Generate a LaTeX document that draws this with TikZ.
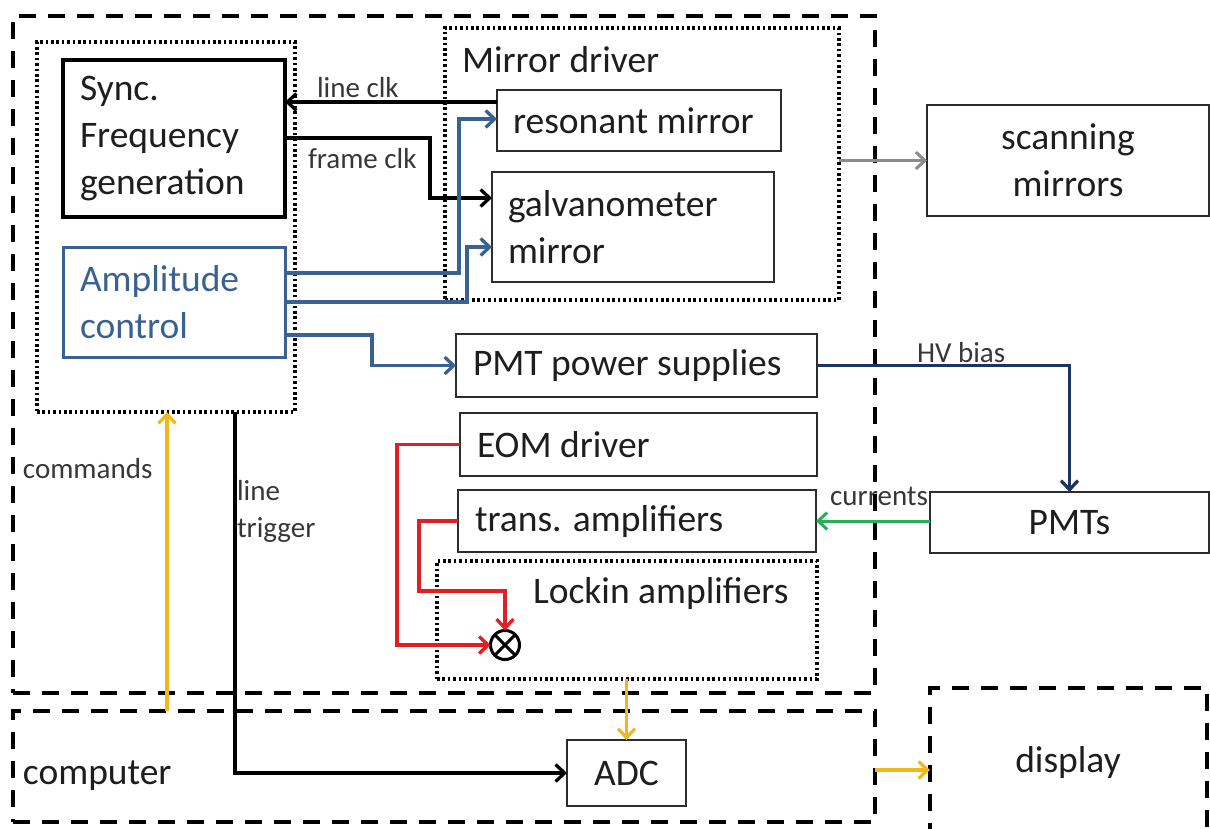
\documentclass[tikz,border=0pt]{standalone}
\usepackage{fontspec}
\setmainfont{Carlito}
\usetikzlibrary{arrows.meta}
\definecolor{ablue}{RGB}{58,98,145}
\definecolor{navyc}{RGB}{28,52,98}
\definecolor{greenc}{RGB}{40,175,90}
\definecolor{redc}{RGB}{225,30,35}
\definecolor{yelc}{RGB}{240,185,25}
\definecolor{grayc}{RGB}{140,140,140}
\definecolor{boxc}{RGB}{45,45,45}
\definecolor{txtc}{RGB}{30,30,30}
\definecolor{lblc}{RGB}{55,55,55}
\newcommand\mainfs{\fontsize{37.5}{47}\selectfont}
\newcommand\lblfs{\fontsize{29}{36}\selectfont}
\tikzset{
  plainbox/.style={draw=boxc, line width=2.3pt, inner sep=0pt, outer sep=0pt},
  dashbox/.style={draw=black, line width=3.6pt, dash pattern=on 17pt off 12pt, inner sep=0pt, outer sep=0pt},
  dotbox/.style={draw=black, line width=3.2pt, dash pattern=on 2.6pt off 2.8pt, inner sep=0pt, outer sep=0pt},
  mtxt/.style={font=\mainfs, text=txtc, inner sep=0pt, outer sep=0pt},
  lbl/.style={font=\lblfs, text=lblc, inner sep=0pt, outer sep=0pt},
  tip/.style={-{Straight Barb[length=9pt,width=17pt]}},
  blk/.style={tip, draw=black, line width=3.3pt},
  bl/.style={tip, draw=ablue, line width=3.3pt},
  nv/.style={tip, draw=navyc, line width=3.3pt},
  gr/.style={tip, draw=greenc, line width=3pt},
  rd/.style={tip, draw=redc, line width=3.3pt},
  yl/.style={tip, draw=yelc, line width=3.2pt},
  gy/.style={tip, draw=grayc, line width=3pt},
}
\begin{document}
\begin{tikzpicture}[x=1pt,y=-1pt]
\useasboundingbox (0,0) rectangle (1210,828);
% containers
\node[dashbox, minimum width=862pt, minimum height=677pt] (outer) at (444,354.5) {};
\node[dashbox, minimum width=862pt, minimum height=111pt] (comp) at (444,766.5) {};
\node[dashbox, minimum width=277pt, minimum height=152pt] (disp) at (1068.5,764) {};
\node[dotbox, minimum width=258pt, minimum height=370pt] (leftdot) at (166,227) {};
\node[dotbox, minimum width=394pt, minimum height=272pt] (mdrv) at (642,164) {};
\node[dotbox, minimum width=380pt, minimum height=118pt] (lockin) at (627,620) {};
% boxes
\node[plainbox, draw=black, line width=3.6pt, minimum width=222pt, minimum height=157pt] (sync) at (174,138.5) {};
\node[plainbox, draw=ablue, line width=3pt, minimum width=222pt, minimum height=110pt] (amp) at (174,302) {};
\node[plainbox, minimum width=284pt, minimum height=61pt] (res) at (639,120.5) {};
\node[plainbox, minimum width=282pt, minimum height=110pt] (galvo) at (633,227) {};
\node[plainbox, minimum width=282pt, minimum height=111pt] (scan) at (1068,160.5) {};
\node[plainbox, minimum width=361pt, minimum height=63pt] (pmtps) at (636.5,365.5) {};
\node[plainbox, minimum width=357pt, minimum height=63pt] (eom) at (638.5,444.5) {};
\node[plainbox, minimum width=358pt, minimum height=62pt] (trans) at (637,521) {};
\node[plainbox, minimum width=279pt, minimum height=61pt] (pmts) at (1069.5,522.5) {};
\node[plainbox, minimum width=119pt, minimum height=66pt] (adc) at (626.5,773) {};
\node[draw=black, line width=3pt, circle, minimum size=29pt, inner sep=0pt, outer sep=0pt] (mix) at (505,645) {};
\draw[black, line width=3pt] (mix.north west) -- (mix.south east) (mix.north east) -- (mix.south west);
% box texts
\node[mtxt, anchor=west, align=left] (tsync) at ([xshift=17pt]sync.west) {Sync.\\Frequency\\generation};
\node[mtxt, anchor=west, align=left, text=ablue] (tamp) at ([xshift=17pt]amp.west) {Amplitude\\control};
\node[mtxt, anchor=west] (tres) at ([xshift=16pt]res.west) {resonant mirror};
\node[mtxt, anchor=west, align=left] (tgalvo) at ([xshift=16pt]galvo.west) {galvanometer\\mirror};
\node[mtxt, align=center] (tscan) at (scan) {scanning\\mirrors};
\node[mtxt, anchor=west] (tpmtps) at ([xshift=17pt]pmtps.west) {PMT power supplies};
\node[mtxt, anchor=west] (teom) at ([xshift=17pt]eom.west) {EOM driver};
\node[mtxt, anchor=west] (ttrans) at ([xshift=17pt]trans.west) {trans. amplifiers};
\node[mtxt] (tpmts) at (pmts) {PMTs};
\node[mtxt] (tadc) at (adc) {ADC};
\node[mtxt, anchor=base west] (tmd) at (462,72) {Mirror driver};
\node[mtxt, anchor=base west] (tli) at (533,603) {Lockin amplifiers};
\node[mtxt, anchor=base west] (tcp) at (23,784) {computer};
\node[mtxt, anchor=base] (tds) at (1068,772) {display};
% labels
\node[lbl, anchor=base west] (tlc) at (317,97) {line clk};
\node[lbl, anchor=base west] (tfc) at (308,168) {frame clk};
\node[lbl, anchor=base west] (thv) at (917,362) {HV bias};
\node[lbl, anchor=base east] (tcur) at (928,505) {currents};
\node[lbl, anchor=base west] (tcmd) at (23,478) {commands};
\node[lbl, anchor=base west] (tlt1) at (237,500) {line};
\node[lbl, anchor=base west] (tlt2) at (237,537) {trigger};
% helper coordinates
\coordinate (ylc) at (0,102);
\coordinate (yfc) at (0,138);
\coordinate (xfc) at (430,198);
\coordinate (b1) at (459,273);
\coordinate (b1e) at (459,119);
\coordinate (b2) at (467,302);
\coordinate (b2e) at (467,247);
\coordinate (b3) at (372,335);
\coordinate (r1) at (397,0);
\coordinate (r2) at (419,591);
\coordinate (lt) at (235,0);
\coordinate (cm) at (167,0);
\coordinate (yd) at (0,770);
% connectors
\draw[blk] (res.west |- ylc) -- (sync.east |- ylc);
\draw[blk] (sync.east |- yfc) -| (xfc) -- (galvo.west |- xfc);
\draw[bl] (amp.east |- b1) -- (b1) -- (b1e) -- (res.west |- b1e);
\draw[bl] (amp.east |- b2) -- (b2) -- (b2e) -- (galvo.west |- b2e);
\draw[bl] (amp.east |- b3) -- (b3) |- (pmtps.west);
\draw[nv] (pmtps.east) -| (pmts.north);
\draw[gr] (pmts.west |- trans.east) -- (trans.east);
\draw[gy] (mdrv.east |- scan.west) -- (scan.west);
\draw[rd] (eom.west) -| (r1 |- mix.west) -- (mix.west);
\draw[rd] (trans.west) -| (r2) -| (mix.north);
\draw[blk] (leftdot.south -| lt) |- (adc.west);
\draw[yl] (comp.north -| cm) -- (leftdot.south -| cm);
\draw[yl] (adc.north |- lockin.south) -- (adc.north);
\draw[yl] (comp.east |- yd) -- (disp.west |- yd);
\end{tikzpicture}
\end{document}
